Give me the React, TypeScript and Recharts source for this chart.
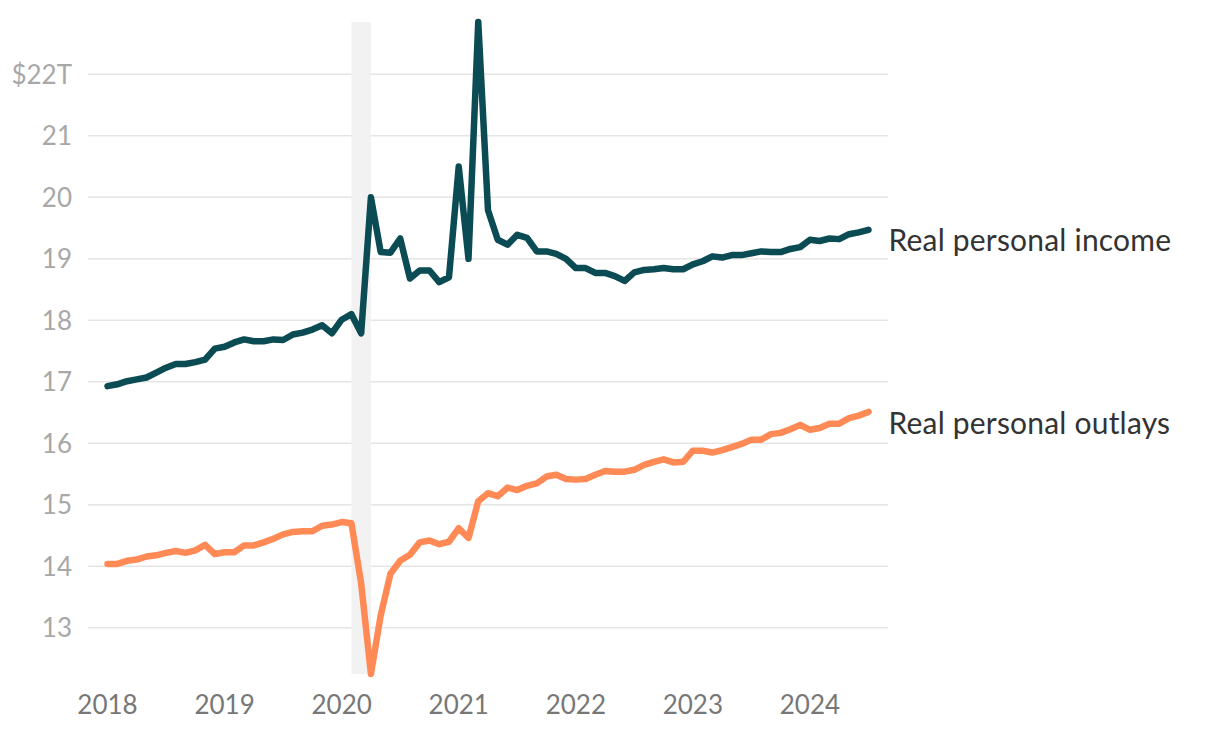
import { LineChart, Line, XAxis, YAxis, CartesianGrid, ReferenceArea } from 'recharts';

// monthly, Jan 2018 .. Jul 2024, trillions of chained dollars
const incomeValues = [
  16.93, 16.96, 17.01, 17.04, 17.07, 17.15, 17.23, 17.29, 17.29, 17.32, 17.36, 17.54,
  17.57, 17.64, 17.69, 17.66, 17.66, 17.69, 17.68, 17.77, 17.8, 17.85, 17.92, 17.79,
  18.01, 18.1, 17.79, 20.0, 19.11, 19.1, 19.33, 18.68, 18.81, 18.81, 18.62, 18.7,
  20.5, 19.0, 22.85, 19.79, 19.31, 19.23, 19.39, 19.34, 19.12, 19.12, 19.08, 19.0,
  18.85, 18.85, 18.77, 18.77, 18.72, 18.64, 18.78, 18.82, 18.83, 18.85, 18.83, 18.83,
  18.91, 18.96, 19.04, 19.02, 19.06, 19.06, 19.09, 19.12, 19.11, 19.11, 19.16, 19.19,
  19.31, 19.29, 19.33, 19.32, 19.4, 19.43, 19.47,
];

const outlayValues = [
  14.04, 14.04, 14.09, 14.11, 14.16, 14.18, 14.22, 14.25, 14.22, 14.26, 14.35, 14.2,
  14.23, 14.23, 14.34, 14.34, 14.39, 14.45, 14.52, 14.56, 14.57, 14.57, 14.66, 14.68,
  14.72, 14.7, 13.72, 12.25, 13.2, 13.88, 14.09, 14.19, 14.39, 14.42, 14.36, 14.4,
  14.62, 14.46, 15.06, 15.19, 15.14, 15.28, 15.24, 15.31, 15.35, 15.46, 15.49, 15.42,
  15.41, 15.42, 15.49, 15.55, 15.54, 15.54, 15.57, 15.65, 15.7, 15.74, 15.69, 15.7,
  15.88, 15.88, 15.85, 15.89, 15.94, 15.99, 16.06, 16.06, 16.15, 16.17, 16.23, 16.3,
  16.22, 16.25, 16.32, 16.32, 16.41, 16.45, 16.51,
];

const yearLabels = ['2018', '2019', '2020', '2021', '2022', '2023', '2024'];
const yTicks = [13, 14, 15, 16, 17, 18, 19, 20, 21, 22];

// recession shading, Feb 2020 to Apr 2020 (month index)
const recessionStart = 25;
const recessionEnd = 27;

const data = incomeValues.map((v, i) => ({
  m: i,
  income: v,
  outlays: outlayValues[i],
}));

const lastIndex = data.length - 1;
const font = '"Source Sans Pro", Lato, sans-serif';

const endLabel = (text: string) => (props: any) => {
  if (props.index !== lastIndex) return null;
  return (
    <text
      x={props.x + 20}
      y={props.y + 14}
      fill="#333"
      fontSize={30}
      letterSpacing={0.2}
      fontFamily={font}
      dominantBaseline="middle"
    >
      {text}
    </text>
  );
};

const App = () => {
  return (
    <div style={{ fontFamily: font }}>
      <LineChart width={1204} height={720} data={data} margin={{ top: 14, right: 324, bottom: 14, left: 0 }}>
        <CartesianGrid vertical={false} horizontalValues={yTicks} stroke="#e5e5e5" strokeWidth={1.5} />
        <ReferenceArea x1={recessionStart} x2={recessionEnd} fill="#f2f2f2" fillOpacity={1} stroke="none" />
        <XAxis
          dataKey="m"
          type="number"
          domain={[-2, 80]}
          ticks={yearLabels.map((_, i) => i * 12)}
          tickFormatter={(v) => yearLabels[v / 12]}
          axisLine={false}
          tickLine={false}
          tickMargin={16}
          height={40}
          tick={{ fill: '#777', fontSize: 26, fontFamily: font }}
        />
        <YAxis
          type="number"
          domain={[12.25, 22.85]}
          ticks={yTicks}
          tickFormatter={(v) => (v === 22 ? '$22T' : String(v))}
          axisLine={false}
          tickLine={false}
          tickMargin={10}
          width={80}
          tick={{ fill: '#a8a8a8', fontSize: 26, fontFamily: font }}
        />
        <Line
          type="linear"
          dataKey="income"
          stroke="#0b4b53"
          strokeWidth={6.5}
          strokeLinecap="round"
          strokeLinejoin="round"
          dot={false}
          isAnimationActive={false}
          label={endLabel('Real personal income')}
        />
        <Line
          type="linear"
          dataKey="outlays"
          stroke="#ff8a55"
          strokeWidth={6.5}
          strokeLinecap="round"
          strokeLinejoin="round"
          dot={false}
          isAnimationActive={false}
          label={endLabel('Real personal outlays')}
        />
      </LineChart>
    </div>
  );
};

export default App;
